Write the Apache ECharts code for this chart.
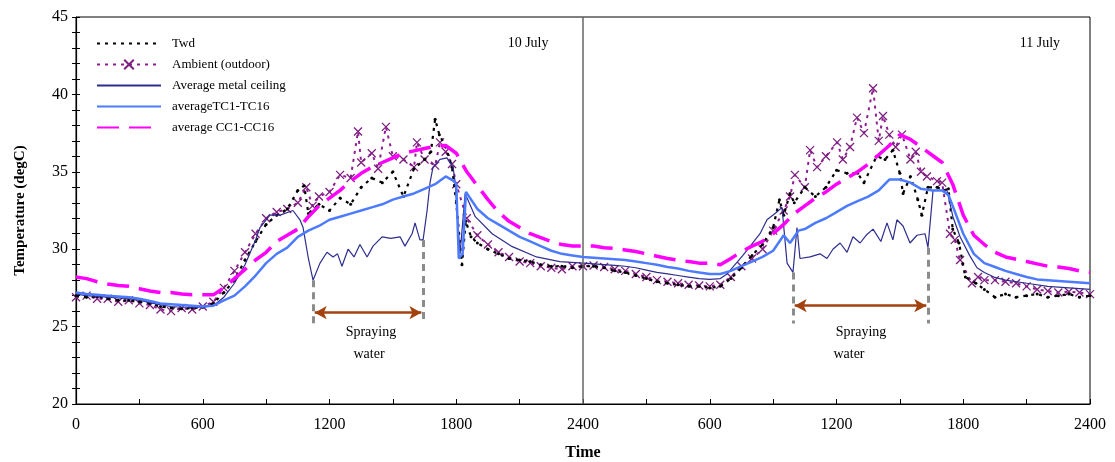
<!DOCTYPE html>
<html><head><meta charset="utf-8">
<script src="https://cdn.jsdelivr.net/npm/echarts@6/dist/echarts.min.js"></script>
<style>html,body{margin:0;padding:0;background:#fff}#c{width:1115px;height:462px}</style>
</head><body><div id="c"></div>
<script>
const xTickLabels = ['0','600','1200','1800','2400','600','1200','1800','2400'];

const twdData = [[0,27.0],[50,26.9],[100,26.95],[150,26.8],[200,26.7],[250,26.7],[300,26.6],[350,26.5],[400,26.3],[450,26.2],[500,26.15],[550,26.2],[600,26.25],[650,26.5],[700,27.2],[750,28.0],[800,29.3],[850,30.5],[900,31.6],[950,32.2],[1000,32.6],[1050,33.8],[1080,34.1],[1100,32.3],[1150,32.9],[1200,32.5],[1250,33.3],[1300,32.9],[1350,34.0],[1400,34.6],[1450,34.3],[1500,35.0],[1550,33.4],[1600,35.2],[1650,35.8],[1680,36.3],[1700,38.4],[1720,37.4],[1750,36.6],[1780,35.3],[1800,33.0],[1827,29.0],[1845,31.8],[1870,30.8],[1900,30.4],[1950,30.0],[2000,29.7],[2050,29.4],[2100,29.3],[2150,29.2],[2200,29.0],[2250,28.9],[2300,28.9],[2350,28.8],[2400,28.9],
[2450,28.9],[2500,28.8],[2550,28.6],[2600,28.5],[2650,28.3],[2700,28.1],[2750,27.9],[2800,27.8],[2850,27.7],[2900,27.6],[2950,27.6],[3000,27.5],[3050,27.6],[3100,28.1],[3150,28.8],[3200,29.6],[3250,30.3],[3300,31.4],[3330,33.2],[3350,32.2],[3380,33.6],[3400,33.0],[3450,34.0],[3500,33.4],[3550,34.0],[3600,35.1],[3650,34.9],[3700,34.9],[3730,34.3],[3790,36.0],[3830,35.8],[3867,36.4],[3900,34.9],[3915,33.6],[3950,34.7],[3985,33.2],[4004,32.2],[4033,34.0],[4076,34.0],[4110,33.8],[4130,33.9],[4150,31.3],[4180,30.4],[4210,28.2],[4260,27.8],[4300,27.4],[4350,26.9],[4400,27.1],[4450,26.9],[4500,27.0],[4550,27.1],[4600,26.9],[4650,27.0],[4700,27.1],[4750,26.9],[4800,27.0]];

const ambientData = [[0,26.9],[50,27.0],[100,26.8],[150,26.8],[200,26.6],[250,26.7],[300,26.5],[350,26.4],[400,26.1],[450,26.0],[500,26.2],[550,26.1],[600,26.3],[650,26.6],[700,27.5],[750,28.6],[800,29.8],[850,31.0],[900,32.0],[950,32.4],[1000,32.6],[1050,33.0],[1090,34.0],[1120,32.8],[1150,33.4],[1200,33.7],[1250,34.8],[1300,34.6],[1335,37.6],[1350,35.6],[1400,36.2],[1430,35.2],[1467,37.9],[1500,36.0],[1550,35.8],[1600,35.3],[1614,36.9],[1650,35.8],[1700,35.4],[1723,36.9],[1750,36.3],[1780,35.5],[1800,34.2],[1850,32.0],[1900,30.9],[1950,30.3],[2000,29.8],[2050,29.5],[2100,29.2],[2150,29.1],[2200,28.9],[2250,28.8],[2300,28.7],[2350,28.9],[2400,28.9],
[2450,28.95],[2500,28.85],[2550,28.7],[2600,28.6],[2650,28.4],[2700,28.2],[2750,28.0],[2800,27.9],[2850,27.8],[2900,27.7],[2950,27.65],[3000,27.6],[3050,27.7],[3100,28.2],[3150,28.9],[3200,29.4],[3250,30.0],[3300,31.2],[3350,32.5],[3380,33.4],[3403,34.8],[3450,34.0],[3475,36.4],[3508,35.3],[3550,36.0],[3603,36.9],[3630,35.8],[3664,36.6],[3697,38.5],[3730,37.5],[3773,40.4],[3800,37.0],[3820,38.6],[3850,37.4],[3880,36.6],[3910,37.4],[3950,35.8],[3975,36.3],[4000,35.0],[4028,34.7],[4076,34.4],[4100,34.3],[4137,31.0],[4160,30.6],[4185,29.3],[4241,27.8],[4270,28.2],[4300,28.0],[4350,28.0],[4400,27.9],[4450,27.8],[4500,27.6],[4550,27.4],[4600,27.3],[4650,27.2],[4700,27.25],[4750,27.2],[4800,27.1]];

const metalData = [[0,27.1],[50,27.0],[100,26.95],[150,26.9],[200,26.85],[250,26.8],[300,26.7],[350,26.55],[400,26.4],[450,26.3],[500,26.25],[550,26.25],[600,26.25],[650,26.35],[700,26.9],[750,27.8],[800,29.0],[850,30.6],[871,31.4],[918,32.2],[966,32.2],[1027,32.5],[1060,31.9],[1075,31.4],[1100,29.4],[1122,28.0],[1155,29.1],[1188,29.8],[1217,29.5],[1238,29.7],[1259,28.9],[1288,30.0],[1316,29.5],[1344,30.3],[1378,29.5],[1406,30.2],[1449,30.8],[1490,30.7],[1534,30.8],[1557,30.2],[1591,31.0],[1605,31.7],[1628,30.6],[1643,30.6],[1662,32.5],[1676,34.3],[1690,35.3],[1723,35.8],[1756,35.9],[1785,35.3],[1795,34.3],[1818,29.7],[1842,33.6],[1890,32.1],[1970,31.0],[2060,30.2],[2180,29.5],[2290,29.2],[2400,29.1],
[2450,29.05],[2500,29.0],[2550,28.95],[2600,28.9],[2650,28.8],[2700,28.65],[2750,28.5],[2800,28.4],[2850,28.3],[2900,28.2],[2950,28.1],[3000,28.05],[3050,28.1],[3082,28.4],[3157,29.6],[3238,31.0],[3271,31.9],[3318,32.4],[3342,32.7],[3366,29.1],[3394,28.5],[3413,31.4],[3427,29.4],[3475,29.5],[3522,29.7],[3555,29.4],[3583,30.0],[3617,30.4],[3650,29.8],[3678,30.8],[3712,30.4],[3740,30.9],[3773,31.3],[3810,30.5],[3839,31.7],[3867,30.6],[3886,31.9],[3915,31.5],[3948,30.4],[3981,30.9],[4019,31.0],[4033,30.1],[4057,33.8],[4123,33.8],[4151,32.1],[4185,30.8],[4230,29.6],[4265,28.8],[4300,28.5],[4345,28.2],[4400,28.0],[4500,27.8],[4600,27.6],[4700,27.5],[4800,27.4]];

const tcData = [[0,27.2],[50,27.1],[100,27.05],[150,27.0],[200,26.95],[250,26.9],[300,26.8],[350,26.65],[400,26.5],[450,26.45],[500,26.4],[550,26.35],[600,26.3],[650,26.35],[700,26.7],[750,27.0],[800,27.6],[850,28.3],[900,29.1],[950,29.7],[1000,30.1],[1050,30.8],[1100,31.2],[1150,31.5],[1200,31.9],[1250,32.1],[1300,32.3],[1350,32.5],[1400,32.7],[1450,32.9],[1500,33.2],[1550,33.4],[1600,33.6],[1650,33.9],[1700,34.2],[1750,34.7],[1790,34.4],[1800,34.2],[1812,29.4],[1830,29.7],[1846,33.7],[1900,32.6],[1950,32.0],[2000,31.6],[2050,31.2],[2100,30.8],[2150,30.5],[2200,30.2],[2250,29.9],[2300,29.7],[2350,29.6],[2400,29.5],
[2450,29.45],[2500,29.4],[2550,29.35],[2600,29.3],[2650,29.2],[2700,29.1],[2750,29.0],[2800,28.85],[2850,28.75],[2900,28.6],[2950,28.5],[3000,28.4],[3050,28.4],[3100,28.6],[3150,28.9],[3200,29.2],[3250,29.5],[3300,29.9],[3350,30.9],[3380,30.4],[3420,31.2],[3450,31.3],[3500,31.7],[3550,32.0],[3600,32.4],[3650,32.8],[3700,33.1],[3750,33.4],[3800,33.8],[3850,34.5],[3900,34.5],[3950,34.3],[4000,33.9],[4050,33.8],[4100,33.8],[4130,33.5],[4150,32.8],[4200,31.0],[4250,29.7],[4300,29.1],[4350,28.85],[4400,28.6],[4450,28.4],[4500,28.2],[4550,28.05],[4600,28.0],[4650,27.95],[4700,27.9],[4750,27.85],[4800,27.8]];

const ccData = [[0,28.2],[50,28.1],[100,27.9],[150,27.75],[200,27.65],[250,27.6],[300,27.45],[350,27.3],[400,27.2],[450,27.2],[500,27.1],[550,27.05],[600,27.05],[650,27.05],[700,27.5],[750,28.1],[800,28.7],[850,29.3],[900,29.8],[950,30.5],[1000,30.9],[1050,31.3],[1100,32.1],[1150,32.8],[1200,33.3],[1250,33.8],[1300,34.4],[1350,34.9],[1400,35.3],[1450,35.6],[1500,35.9],[1550,36.2],[1600,36.35],[1650,36.5],[1700,36.65],[1750,36.7],[1800,36.2],[1850,35.0],[1900,34.1],[1950,33.2],[2000,32.4],[2050,31.8],[2100,31.4],[2150,31.0],[2200,30.75],[2250,30.5],[2300,30.3],[2350,30.2],[2400,30.2],
[2450,30.2],[2500,30.1],[2550,30.05],[2600,29.95],[2650,29.85],[2700,29.7],[2750,29.55],[2800,29.4],[2850,29.3],[2900,29.2],[2950,29.1],[3000,29.1],[3050,29.0],[3100,29.4],[3150,29.85],[3200,30.2],[3250,30.5],[3300,31.0],[3350,31.6],[3400,32.3],[3450,32.8],[3500,33.3],[3550,33.7],[3600,34.2],[3650,34.6],[3700,35.0],[3750,35.5],[3800,36.1],[3850,36.7],[3900,37.4],[3950,37.1],[4000,36.6],[4050,36.1],[4100,35.6],[4150,34.2],[4200,32.2],[4250,30.9],[4300,30.3],[4350,29.8],[4400,29.5],[4450,29.35],[4500,29.2],[4550,29.05],[4600,28.9],[4650,28.85],[4700,28.75],[4750,28.6],[4800,28.5]];

// annotation positions (data space)
const dayLabels = [['10 July',2140,43.27],['11 July',4563,43.27]];
const sprayStart = [[1122,28.0],[3394,28.5]];
const sprayEnd = [[1643,30.6],[4033,30.1]];
const sprayArrowY = [25.9,26.35];
const sprayBottom = 25.2;
const sprayText = [['Spraying',1396,24.66],['water',1387,23.24],['Spraying',3716,24.66],['water',3659,23.24]];

const FONT = 'Liberation Serif';
const chart = echarts.init(document.getElementById('c'), null, {renderer:'canvas'});

const dashedLines = [];
for (let i=0;i<2;i++){
  dashedLines.push([{coord:[sprayStart[i][0],sprayStart[i][1]],lineStyle:{color:'#8c8c8c',width:3,type:[7,5]}},{coord:[sprayStart[i][0],sprayBottom]}]);
  dashedLines.push([{coord:[sprayEnd[i][0],sprayEnd[i][1]],lineStyle:{color:'#8c8c8c',width:3,type:[7,5]}},{coord:[sprayEnd[i][0],sprayBottom]}]);
}
const arrows = [];
for (let i=0;i<2;i++){
  arrows.push([{coord:[sprayStart[i][0]+8,sprayArrowY[i]]},{coord:[sprayEnd[i][0]-8,sprayArrowY[i]]}]);
}
const texts = dayLabels.concat(sprayText).map(d=>({name:d[0],coord:[d[1],d[2]]}));
const noSym = {color:'rgba(0,0,0,0)',borderWidth:0};

const option = {
  animation:false,
  backgroundColor:'#fff',
  grid:{left:76,right:25,top:17,bottom:58,show:true,borderColor:'#000',borderWidth:1,backgroundColor:'transparent',
        outerBoundsMode:'none',containLabel:false},
  legend:{
    data:[
      {name:'Twd',itemStyle:noSym},
      {name:'Ambient (outdoor)'},
      {name:'Average metal ceiling',itemStyle:noSym},
      {name:'averageTC1-TC16',itemStyle:noSym},
      {name:'average CC1-CC16',itemStyle:noSym}
    ],
    orient:'vertical',left:96,top:37,padding:0,itemWidth:64,itemHeight:12,itemGap:8,
    textStyle:{fontFamily:FONT,fontSize:13,color:'#000',padding:[0,0,0,6],lineHeight:13},
    selectedMode:false
  },
  xAxis:[{
    type:'value',min:0,max:4800,interval:600,
    name:'Time',nameLocation:'middle',nameGap:41,
    nameTextStyle:{fontFamily:FONT,fontSize:16,fontWeight:'bold',color:'#000'},
    axisLine:{lineStyle:{color:'#000',width:1.2}},
    axisTick:{inside:true,length:5,lineStyle:{color:'#000'}},
    minorTick:{show:true,splitNumber:2,length:5,lineStyle:{color:'#000'}},
    splitLine:{show:false},
    axisLabel:{fontFamily:FONT,fontSize:16,color:'#000',margin:13,
      formatter:v=>xTickLabels[Math.round(v/600)]}
  }],
  yAxis:[{
    type:'value',min:20,max:45,interval:5,
    name:'Temperature (degC)',nameLocation:'middle',nameGap:48,
    nameTextStyle:{fontFamily:FONT,fontSize:15,fontWeight:'bold',color:'#000'},
    axisLine:{show:true,lineStyle:{color:'#000',width:1.2}},
    axisTick:{show:true,length:4,lineStyle:{color:'#000'}},
    minorTick:{show:true,splitNumber:5,length:4,lineStyle:{color:'#000'}},
    splitLine:{show:false},
    axisLabel:{fontFamily:FONT,fontSize:16,color:'#000',margin:8}
  },{
    type:'value',min:20,max:45,interval:5,position:'left',
    axisLine:{show:false},
    axisTick:{show:true,inside:true,length:4,lineStyle:{color:'#000'}},
    minorTick:{show:true,splitNumber:5,length:4,lineStyle:{color:'#000'}},
    splitLine:{show:false},axisLabel:{show:false}
  }],
  series:[
    {name:'Twd',type:'line',data:twdData,z:3,
     symbol:'circle',symbolSize:3,showSymbol:true,
     itemStyle:{color:'#000'},
     lineStyle:{color:'#000',width:2.2,type:[3,5]}},
    {name:'Ambient (outdoor)',type:'line',data:ambientData,z:2,
     symbol:'path://M0,0L10,10M10,0L0,10',symbolSize:8,showSymbol:true,
     itemStyle:{color:'rgba(0,0,0,0)',borderColor:'#7d1f80',borderWidth:1.3},
     lineStyle:{color:'#8e1e92',width:2,type:[3,5]}},
    {name:'Average metal ceiling',type:'line',data:metalData,z:4,
     symbol:'none',itemStyle:{color:'#2e2e8e'},
     lineStyle:{color:'#2e2e8e',width:1.2}},
    {name:'averageTC1-TC16',type:'line',data:tcData,z:5,
     symbol:'none',itemStyle:{color:'#4c7bff'},
     lineStyle:{color:'#4c7bff',width:2.5}},
    {name:'average CC1-CC16',type:'line',data:ccData,z:6,
     symbol:'none',itemStyle:{color:'#ff00ff'},
     lineStyle:{color:'#ff00ff',width:3.5,type:[22,10]}},
    {name:'annot',type:'line',data:[],z:7,silent:true,
     markLine:{silent:true,symbol:['none','none'],label:{show:false},animation:false,
       data:[{xAxis:2400,lineStyle:{color:'#666',width:1.5,type:'solid'}}].concat(dashedLines)
     },
     markPoint:{silent:true,symbol:'circle',symbolSize:0,
       label:{show:true,position:'inside',formatter:'{b}',fontFamily:FONT,fontSize:14,color:'#000'},
       data:texts}
    },
    {name:'arrows',type:'line',data:[],z:8,silent:true,
     markLine:{silent:true,symbol:['arrow','arrow'],symbolSize:[10,12],label:{show:false},
       lineStyle:{color:'#a3410f',width:2.5,type:'solid'},
       data:arrows}
    }
  ]
};
chart.setOption(option);
</script></body></html>
